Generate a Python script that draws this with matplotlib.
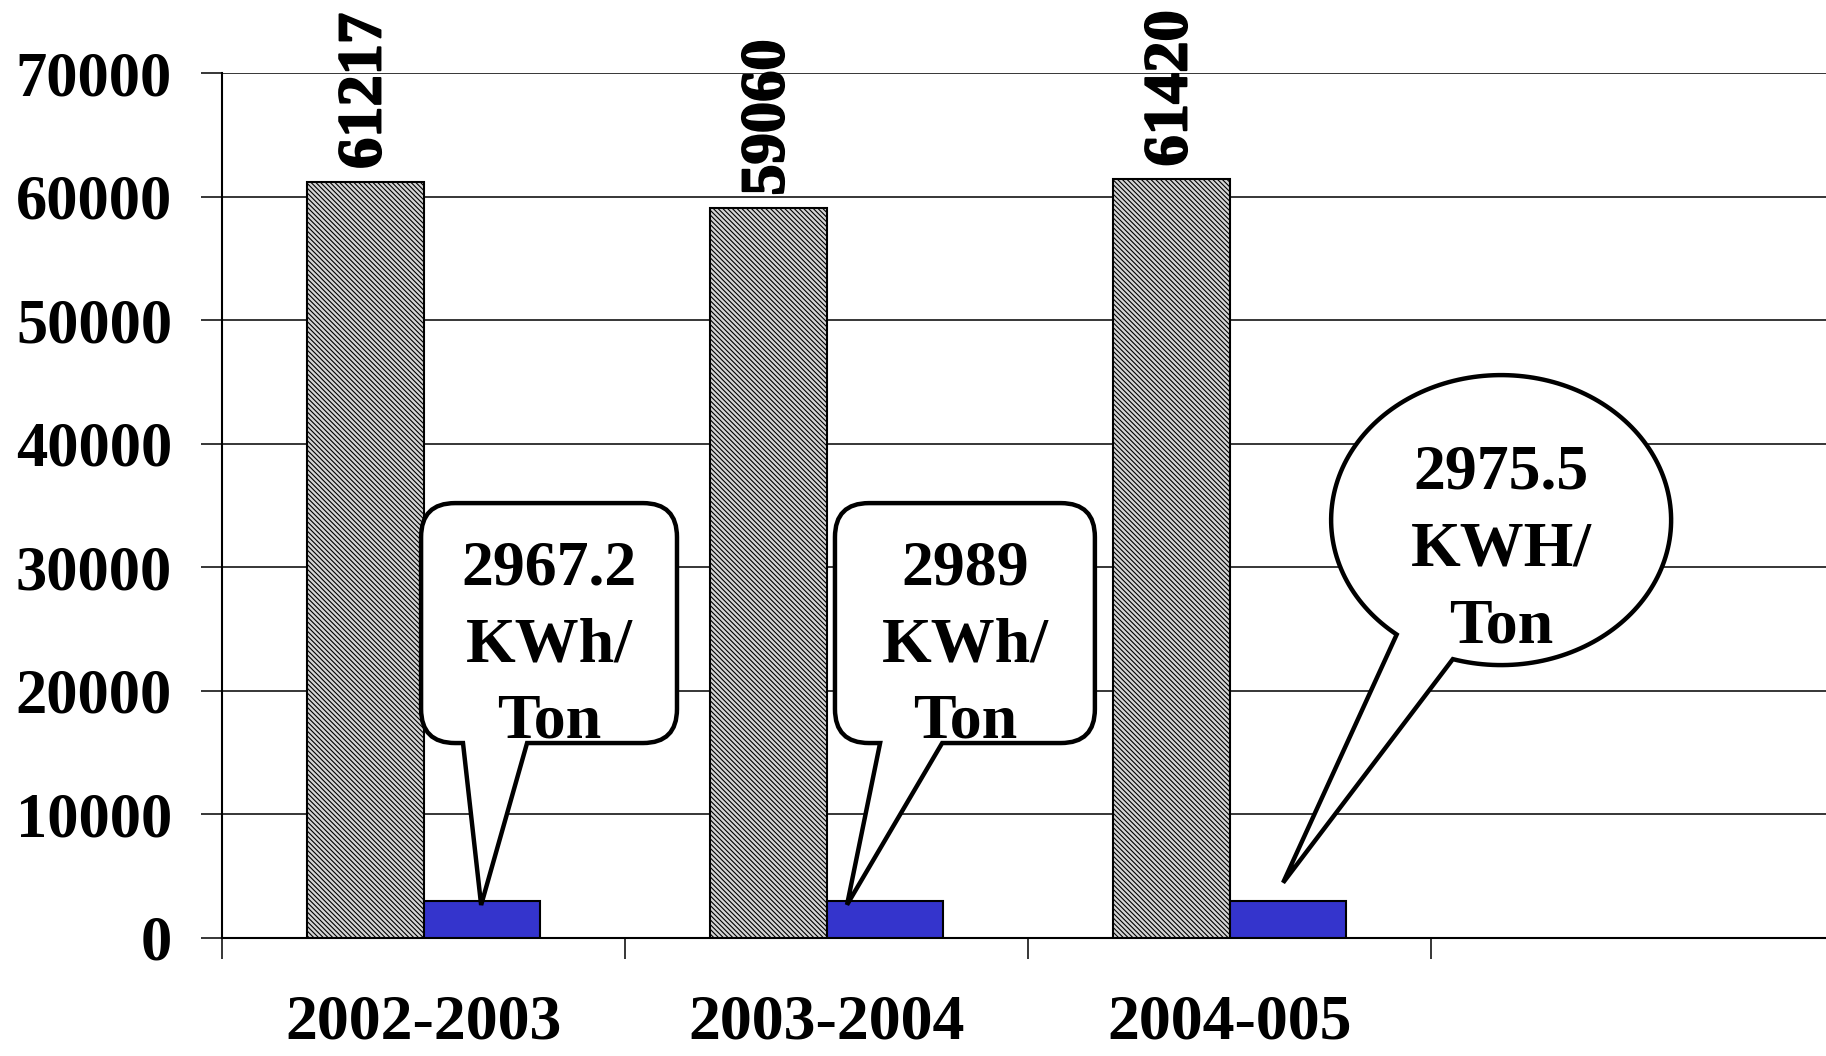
import matplotlib
matplotlib.use('Agg')
import matplotlib.pyplot as plt
import matplotlib.patheffects as pe
from matplotlib.path import Path
from matplotlib.patches import PathPatch
from matplotlib.transforms import IdentityTransform
import numpy as np

years = ['2002-2003', '2003-2004', '2004-005']
production = [61217, 59060, 61420]
specific = [2967.2, 2989, 2975.5]
spec_text = ['2967.2', '2989', '2975.5']
spec_unit = ['KWh/', 'KWh/', 'KWH/']
spec_per = ['Ton', 'Ton', 'Ton']

plt.rcParams['font.family'] = ['Liberation Serif', 'DejaVu Serif']
plt.rcParams['font.weight'] = 'bold'
plt.rcParams['hatch.linewidth'] = 0.8

W, H = 1826, 1056
fig = plt.figure(figsize=(W / 100, H / 100), dpi=100)
ax = fig.add_axes([222 / W, 1 - 938 / H, 1612 / W, 865 / H])

x = np.arange(len(years))
w = 0.288
ax.bar(x - w / 2, production, w, color='#d4d4d4', edgecolor='black',
       hatch='\\' * 7, lw=1.5, zorder=3)
ax.bar(x + w / 2, specific, w, color='#3434cc', edgecolor='black', lw=1.5, zorder=3)

ax.set_xlim(-0.5, 3.5)
ax.set_ylim(0, 70000)
ax.set_yticks(range(0, 70001, 10000))
ax.yaxis.grid(True, color='black', lw=1.1)
ax.set_axisbelow(True)
for s in ['top', 'right']:
    ax.spines[s].set_visible(False)
ax.spines['left'].set_linewidth(1.5)
ax.spines['bottom'].set_linewidth(1.5)
ax.tick_params(axis='y', direction='out', length=15, width=1.1, pad=21, labelsize=45)
ax.set_xticks(x)
ax.set_xticklabels(years)
ax.tick_params(axis='x', which='major', length=0, pad=41, labelsize=46)
ax.set_xticks(np.arange(-0.5, 3.6, 1), minor=True)
ax.tick_params(axis='x', which='minor', direction='out', length=15, width=1.1)

for xi, v in zip(x - w / 2, production):
    ax.annotate(str(v), (xi, v), xytext=(0, 9), textcoords='offset points',
                rotation=90, ha='center', va='bottom', fontsize=45, fontweight='bold',
                path_effects=[pe.withStroke(linewidth=1.4, foreground='black')])


def px(xd, yd):
    return ax.transData.transform((xd, yd))


def add_path(verts, codes):
    p = PathPatch(Path(verts, codes), facecolor='white', edgecolor='black', lw=3.2,
                  joinstyle='miter', transform=IdentityTransform(), clip_on=False, zorder=5)
    ax.add_patch(p)


def add_lines(cx, ytop_px, offsets, lines):
    for off, s in zip(offsets, lines):
        ax.text(cx, ytop_px - off, s, transform=IdentityTransform(), ha='center',
                va='baseline', fontsize=46, fontweight='bold', zorder=6, clip_on=False)


# rounded box callouts (first two)
boxes = [(-0.006, 0.629, 0.098, 0.257, 0.143), (1.021, 1.666, 1.133, 1.287, 1.051)]
box_top, box_bot = 35194, 15777
r = 34
for i, (bx0, bx1, t0, t1, tx) in enumerate(boxes):
    x0, y1 = px(bx0, box_top)
    x1, y0 = px(bx1, box_bot)
    a0 = px(t0, 0)[0]
    a1 = px(t1, 0)[0]
    tipx, tipy = px(tx, specific[i] * 0.9)
    verts = [(x0 + r, y0), (a0, y0), (tipx, tipy), (a1, y0), (x1 - r, y0),
             (x1, y0), (x1, y0 + r), (x1, y1 - r), (x1, y1), (x1 - r, y1),
             (x0 + r, y1), (x0, y1), (x0, y1 - r), (x0, y0 + r), (x0, y0), (x0 + r, y0),
             (x0 + r, y0)]
    codes = [Path.MOVETO, Path.LINETO, Path.LINETO, Path.LINETO, Path.LINETO,
             Path.CURVE3, Path.CURVE3, Path.LINETO, Path.CURVE3, Path.CURVE3,
             Path.LINETO, Path.CURVE3, Path.CURVE3, Path.LINETO, Path.CURVE3, Path.CURVE3,
             Path.CLOSEPOLY]
    add_path(verts, codes)
    add_lines((x0 + x1) / 2, y1, [81, 158, 234], [spec_text[i], spec_unit[i], spec_per[i]])

# oval callout (third)
cx, cy = px(2.674, 33819)
ea, eb = 170, 145
t = np.radians(np.linspace(-106.5, 232.1, 200))
verts = list(zip(cx + ea * np.cos(t), cy + eb * np.sin(t)))
tip = px(2.133, specific[2] + 1500)
verts += [tuple(tip), verts[0], verts[0]]
codes = [Path.MOVETO] + [Path.LINETO] * (len(verts) - 2) + [Path.CLOSEPOLY]
add_path(verts, codes)
add_lines(cx, cy, [-32, 45, 122], [spec_text[2], spec_unit[2], spec_per[2]])

fig.savefig('out.png', dpi=100)
